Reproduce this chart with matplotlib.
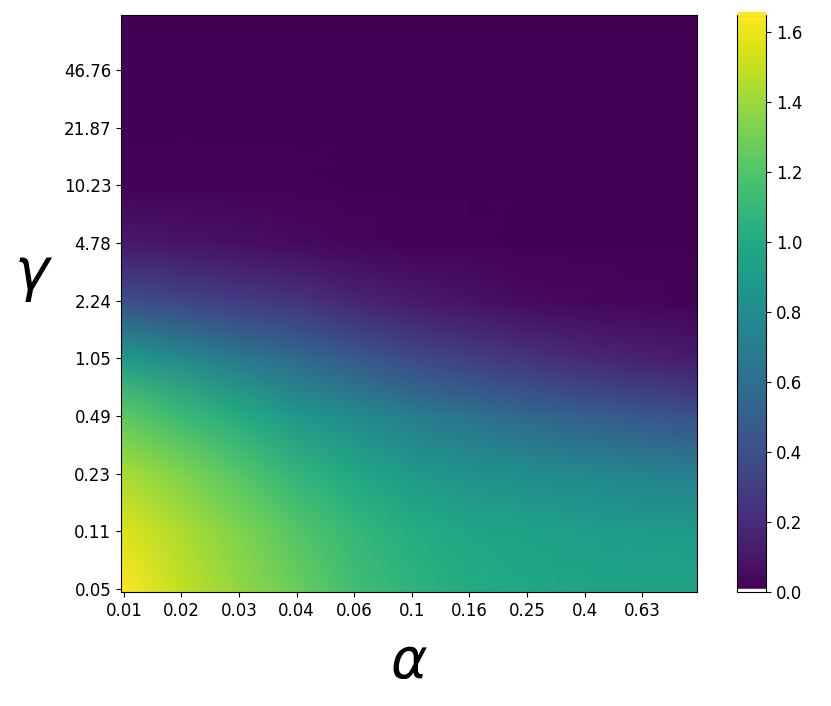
import numpy as np
from matplotlib import pyplot as plt
from matplotlib.patches import Rectangle

# etiquetas de los ejes (valores de la malla logaritmica)
alpha_labels = ["0.01", "0.02", "0.03", "0.04", "0.06", "0.1", "0.16", "0.25", "0.4", "0.63"]
gamma_labels = ["0.05", "0.11", "0.23", "0.49", "1.05", "2.24", "4.78", "10.23", "21.87", "46.76"]

# nodos (indice de la malla 100x100) donde se leyeron los valores
nodos = [-0.5, 10, 20, 30, 40, 50, 60, 70, 80, 90, 99.5]

# valores: filas = gamma (abajo -> arriba), columnas = alpha
valores = [
    [1.65, 1.50, 1.38, 1.27, 1.15, 1.07, 1.01, 0.99, 0.97, 0.96, 0.96],
    [1.57, 1.45, 1.33, 1.21, 1.10, 1.02, 0.97, 0.95, 0.92, 0.90, 0.89],
    [1.44, 1.33, 1.21, 1.08, 0.98, 0.89, 0.84, 0.80, 0.77, 0.74, 0.71],
    [1.24, 1.12, 1.01, 0.88, 0.79, 0.70, 0.63, 0.56, 0.50, 0.45, 0.40],
    [0.90, 0.78, 0.67, 0.57, 0.47, 0.37, 0.30, 0.24, 0.19, 0.15, 0.12],
    [0.40, 0.34, 0.29, 0.24, 0.17, 0.12, 0.08, 0.05, 0.03, 0.02, 0.01],
    [0.11, 0.09, 0.07, 0.05, 0.02, 0.01, 0.01, 0.00, 0.00, 0.00, 0.00],
    [0.01, 0.01, 0.01, 0.01, 0.00, 0.00, 0.00, 0.00, 0.00, 0.00, 0.00],
    [0.00, 0.00, 0.00, 0.00, 0.00, 0.00, 0.00, 0.00, 0.00, 0.00, 0.00],
    [0.00, 0.00, 0.00, 0.00, 0.00, 0.00, 0.00, 0.00, 0.00, 0.00, 0.00],
    [0.00, 0.00, 0.00, 0.00, 0.00, 0.00, 0.00, 0.00, 0.00, 0.00, 0.00],
]

fig = plt.figure(figsize=(8.31, 7.06), dpi=100)
ax = fig.add_axes([121/831, 1-592/706, 576/831, 577/706])
cax = fig.add_axes([737/831, 1-592/706, 29/831, 577/706])

X, Y = np.meshgrid(nodos, nodos)
m = ax.pcolormesh(X, Y, np.array(valores), shading="gouraud", cmap="viridis",
                  vmin=0, vmax=1.65)
ax.set_xlim(-0.5, 99.5)
ax.set_ylim(-0.5, 99.5)

ax.set_xticks(np.arange(0, 100, 10))
ax.set_xticklabels(alpha_labels, fontsize=12)
ax.set_yticks(np.arange(0, 100, 10))
ax.set_yticklabels(gamma_labels, fontsize=12)

ax.set_xlabel(r"$\alpha$", fontsize=40, labelpad=12)
ax.set_ylabel(r"$\gamma$", fontsize=42, rotation=0, labelpad=22)

cb = fig.colorbar(m, cax=cax)
cb.set_ticks([0.0, 0.2, 0.4, 0.6, 0.8, 1.0, 1.2, 1.4, 1.6])
cb.ax.tick_params(labelsize=12)

# pequeño desfase del relleno de la barra de color, como en la original
fig.patches.append(Rectangle((738/831, 1-15/706), 27/831, 3.5/706, transform=fig.transFigure,
                             color=plt.cm.viridis(1.0), zorder=5))
cax.add_patch(Rectangle((0, 0.002), 1, 0.004, transform=cax.transAxes,
                        color="white", zorder=2))

fig.savefig("out.png", dpi=100)
